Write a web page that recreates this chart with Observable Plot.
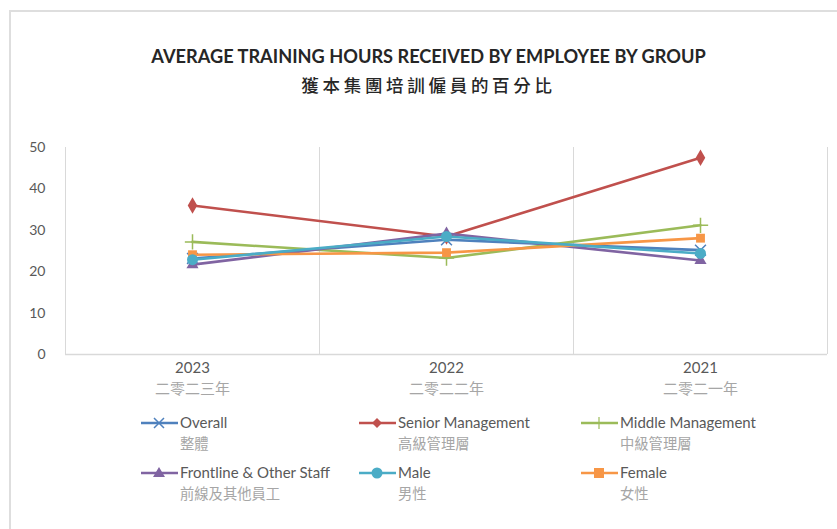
<!DOCTYPE html>
<html>
<head>
<meta charset="utf-8">
<script src="https://cdn.jsdelivr.net/npm/d3@7"></script>
<script src="https://cdn.jsdelivr.net/npm/@observablehq/plot@0.6"></script>
<style>
  html, body { margin: 0; padding: 0; background: #fff; }
  #root { position: relative; width: 837px; height: 529px; overflow: hidden; font-family: Lato, "Open Sans", sans-serif; }
  #frame { position: absolute; left: 9px; top: 10px; width: 900px; height: 600px; border-left: 2px solid #dedede; border-top: 2px solid #dedede; }
  #title { position: absolute; left: 10px; width: 837px; top: 45px; text-align: center; font-weight: bold; font-size: 18.2px; color: #262626; }
  #subtitle { position: absolute; left: 10px; width: 837px; top: 72px; text-align: center; font-family: "Noto Sans CJK TC", sans-serif; font-weight: 500; font-size: 17.5px; letter-spacing: 3.7px; color: #262626; }
  #chart { position: absolute; left: 0; top: 130px; }
  .leg { position: absolute; }
  .leg svg { position: absolute; left: 0; top: 0; }
  .leg .en { position: absolute; left: 40px; top: -2px; font-size: 15px; color: #595959; white-space: nowrap; }
  .leg .zh { position: absolute; left: 40px; top: 17px; font-family: "Noto Sans CJK TC", sans-serif; font-size: 14.3px; color: #a6a6a6; white-space: nowrap; }
</style>
</head>
<body>
<div id="root">
  <div id="frame"></div>
  <div id="title">AVERAGE TRAINING HOURS RECEIVED BY EMPLOYEE BY GROUP</div>
  <div id="subtitle">獲本集團培訓僱員的百分比</div>
  <div id="chart"></div>
  <div id="legend"></div>
</div>
<script>
// ---- data ----
const years = ["2023", "2022", "2021"];
const yearsZh = ["二零二三年", "二零二二年", "二零二一年"];
const yTicks = [0, 10, 20, 30, 40, 50];

const seriesNames = ["Overall", "Senior Management", "Middle Management", "Frontline & Other Staff", "Male", "Female"];
const seriesNamesZh = ["整體", "高級管理層", "中級管理層", "前線及其他員工", "男性", "女性"];

const overall   = [23.2, 27.7, 25.2];
const senior    = [36.0, 28.5, 47.5];
const middle    = [27.2, 23.3, 31.2];
const frontline = [21.7, 29.2, 22.7];
const male      = [22.9, 28.5, 24.4];
const female    = [24.1, 24.6, 28.1];

const seriesValues = [overall, senior, middle, frontline, male, female];
const seriesColors = ["#4F81BD", "#C0504D", "#9BBB59", "#8064A2", "#4BACC6", "#F79646"];
const seriesSymbols = ["times", "diamond", "plus", "triangle", "circle", "square"];
const drawOrder = [0, 1, 2, 3, 5, 4];

// ---- chart ----
const marks = [
  Plot.ruleX([-0.5, 0.5, 1.5, 2.5], {stroke: "#d9d9d9", strokeWidth: 1}),
  Plot.ruleY([0], {stroke: "#d9d9d9", strokeWidth: 1.5}),
  Plot.axisY({ticks: yTicks, tickSize: 0, tickPadding: 20, fontSize: 14, color: "#595959", label: null}),
  Plot.text(years, {x: (d, i) => i, y: 0, text: d => d, dy: 14, fontSize: 15, fill: "#595959"}),
  Plot.text(yearsZh, {x: (d, i) => i, y: 0, text: d => d, dy: 35, fontSize: 15, fill: "#a6a6a6", fontFamily: "Noto Sans CJK TC"})
];

for (const s of drawOrder) {
  const rows = seriesValues[s].map((v, i) => ({i, v}));
  const c = seriesColors[s];
  marks.push(Plot.line(rows, {x: "i", y: "v", stroke: c, strokeWidth: 2.6}));
  const sym = seriesSymbols[s];
  const strokeSym = sym === "times" || sym === "plus";
  marks.push(Plot.dot(rows, strokeSym
    ? {x: "i", y: "v", symbol: () => sym, r: 5, stroke: c, strokeWidth: 1.5, fill: "none"}
    : {x: "i", y: "v", symbol: () => sym, r: sym === "circle" ? 5.5 : sym === "triangle" ? 4.5 : 5, fill: c, stroke: "none"}));
}

const chart = Plot.plot({
  width: 837,
  height: 270,
  marginLeft: 65,
  marginRight: 10,
  marginTop: 17,
  marginBottom: 46,
  style: {fontFamily: "Lato, 'Open Sans', sans-serif", background: "transparent"},
  x: {domain: [-0.5, 2.5], axis: null},
  y: {domain: [0, 50], axis: null},
  symbol: {type: "identity"},
  marks
});
document.getElementById("chart").appendChild(chart);

// ---- legend ----
const legPos = [[140, 423], [358, 423], [580, 423], [140, 473], [358, 473], [580, 473]];
const legend = document.getElementById("legend");
seriesNames.forEach((name, s) => {
  const [lx, ly] = legPos[s];
  const div = document.createElement("div");
  div.className = "leg";
  div.style.left = lx + "px";
  div.style.top = (ly - 8) + "px";
  const c = seriesColors[s];
  const sym = seriesSymbols[s];
  let marker = "";
  const cx = 19, cy = 8;
  if (sym === "times") marker = `<path d="M${cx-5},${cy-5}L${cx+5},${cy+5}M${cx-5},${cy+5}L${cx+5},${cy-5}" stroke="${c}" stroke-width="1.5"/>`;
  else if (sym === "plus") marker = `<path d="M${cx},${cy-6}L${cx},${cy+6}" stroke="${c}" stroke-width="1.2"/>`;
  else if (sym === "diamond") marker = `<path d="M${cx},${cy-5}L${cx+5},${cy}L${cx},${cy+5}L${cx-5},${cy}Z" fill="${c}"/>`;
  else if (sym === "triangle") marker = `<path d="M${cx},${cy-6}L${cx+6},${cy+4}L${cx-6},${cy+4}Z" fill="${c}"/>`;
  else if (sym === "circle") marker = `<circle cx="${cx}" cy="${cy}" r="5.5" fill="${c}"/>`;
  else if (sym === "square") marker = `<rect x="${cx-5}" y="${cy-5}" width="10" height="10" fill="${c}"/>`;
  div.innerHTML = `<svg width="40" height="16"><line x1="1" y1="${cy}" x2="38" y2="${cy}" stroke="${c}" stroke-width="2.5"/>${marker}</svg>` +
    `<span class="en">${name}</span><span class="zh">${seriesNamesZh[s]}</span>`;
  legend.appendChild(div);
});
</script>
</body>
</html>
